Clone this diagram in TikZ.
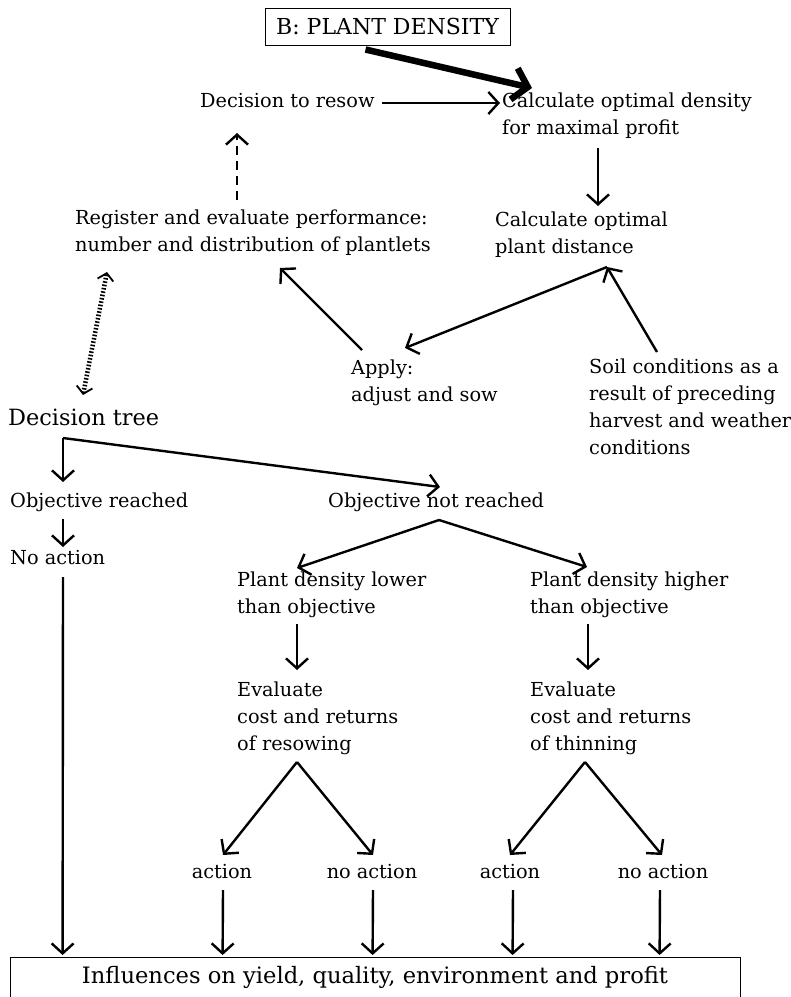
\documentclass[tikz,border=0pt]{standalone}
\usepackage{fontspec}
\setmainfont{DejaVu Serif}
\usetikzlibrary{arrows.meta,calc}
\newcommand\bodyfont{\fontsize{19.3}{27}\selectfont}
\newcommand\bigfont{\fontsize{22.4}{27}\selectfont}
\newcommand\titlefont{\fontsize{22}{26}\selectfont}
\tikzset{
  txt/.style={anchor=north west, inner sep=0pt, align=left, font=\bodyfont},
  lbl/.style={anchor=north, inner sep=0pt, font=\bodyfont},
  arr/.style={line width=2.4pt, -{Straight Barb[length=10pt,width=22pt]}},
  bigarr/.style={line width=6.5pt, -{Straight Barb[length=14pt,width=32pt]}},
  dasharr/.style={arr, dash pattern=on 9pt off 6pt},
  hatcharr/.style={line width=4.5pt, dash pattern=on 1.6pt off 1.8pt,
    {Straight Barb[length=7pt,width=16pt,line width=1.8pt]}-{Straight Barb[length=7pt,width=16pt,line width=1.8pt]}},
}
\begin{document}
\begin{tikzpicture}[x=1pt,y=-1pt]
\useasboundingbox (0,0) rectangle (791,997);

% upper cycle
\node[draw, line width=0.8pt, minimum width=245pt, minimum height=37pt, inner sep=0pt, font=\titlefont]
  (title) at (387.5,26.5) {B: PLANT DENSITY};
\node[txt] (resow) at (200,93) {Decision to resow};
\node[txt] (calcdens) at (502,93) {Calculate optimal density\\for maximal profit};
\node[txt] (calcdist) at (495,212) {Calculate optimal\\plant distance};
\node[txt] (register) at (75,210) {Register and evaluate performance:\\number and distribution of plantlets};
\node[txt] (apply) at (351,360) {Apply:\\adjust and sow};
\node[txt] (soil) at (589,359) {Soil conditions as a\\result of preceding\\harvest and weather\\conditions};

% decision tree
\node[txt, font=\bigfont] (dtree) at (8,409) {Decision tree};
\node[txt] (objr) at (10,493) {Objective reached};
\node[txt] (objnr) at (328,493) {Objective not reached};
\node[txt] (noact) at (10,550) {No action};
\node[txt] (lower) at (237,572) {Plant density lower\\than objective};
\node[txt] (higher) at (530,572) {Plant density higher\\than objective};
\node[txt] (evres) at (237,682) {Evaluate\\cost and returns\\of resowing};
\node[txt] (evthin) at (530,682) {Evaluate\\cost and returns\\of thinning};
\node[lbl] (a1) at (222,864) {action};
\node[lbl] (na1) at (372,864) {no action};
\node[lbl] (a2) at (510,864) {action};
\node[lbl] (na2) at (663,864) {no action};
\node[draw, line width=0.8pt, anchor=north, minimum width=730pt, inner xsep=0pt, inner ysep=9pt,
  font=\fontsize{22.6}{26}\selectfont] (bottom) at (375,957)
  {Influences on yield, quality, environment and profit};

% connectors of the upper cycle
\draw[bigarr] ($(title.center)+(-22,23)$) -- ($(calcdens.north west)+(30,-5)$);
\draw[arr] ($(resow.north west)+(182,10)$) -- ($(calcdens.north west)+(-2,10)$);
\draw[arr] ($(calcdens.north west)+(96,55)$) -- ($(calcdist.north west)+(103,-6)$);
\draw[arr] ($(calcdist.north west)+(112,55)$) -- ($(apply.north west)+(54,-12)$);
\draw[arr] ($(soil.north west)+(68,-7)$) -- ($(calcdist.north west)+(112,55)$);
\draw[arr] ($(apply.north west)+(11,-10)$) -- ($(register.north west)+(205,58)$);
\draw[dasharr] ($(register.north west)+(162,-10)$) -- ($(register.north west)+(162,-60)$)
  -- ($(resow.north west)+(37,40)$);
\draw[hatcharr] ($(dtree.north west)+(75,-14)$) -- ($(register.north west)+(32,62)$);

% connectors of the decision tree
\draw[arr] ($(dtree.north west)+(55,29)$) -- ($(objr.north west)+(53,-11)$);
\draw[arr] ($(dtree.north west)+(55,29)$) -- ($(objnr.north west)+(112,-6)$);
\draw[arr] ($(objr.north west)+(53,26)$) -- ($(noact.north west)+(53,-3)$);
\draw[arr] ($(noact.north west)+(53,27)$) -- ($(bottom.north west)+(53,-2)$);
\draw[arr] ($(objnr.north west)+(111,27)$) -- ($(lower.north west)+(60,-4)$);
\draw[arr] ($(objnr.north west)+(111,27)$) -- ($(higher.north west)+(57,-5)$);
\draw[arr] ($(lower.north west)+(60,52)$) -- ($(evres.north west)+(60,-12)$);
\draw[arr] ($(higher.north west)+(58,52)$) -- ($(evthin.north west)+(58,-12)$);
\draw[arr] ($(evres.north west)+(60,80)$) -- ($(a1.north)+(1,-9)$);
\draw[arr] ($(evres.north west)+(60,80)$) -- ($(na1.north)+(1,-9)$);
\draw[arr] ($(evthin.north west)+(55,80)$) -- ($(a2.north)+(0,-9)$);
\draw[arr] ($(evthin.north west)+(55,80)$) -- ($(na2.north)+(-1,-9)$);
\draw[arr] ($(a1.north)+(1,26)$) -- ($(bottom.north west)+(213,-2)$);
\draw[arr] ($(na1.north)+(1,26)$) -- ($(bottom.north west)+(363,-2)$);
\draw[arr] ($(a2.north)+(3,26)$) -- ($(bottom.north west)+(503,-2)$);
\draw[arr] ($(na2.north)+(-3,26)$) -- ($(bottom.north west)+(650,-2)$);
\end{tikzpicture}
\end{document}
